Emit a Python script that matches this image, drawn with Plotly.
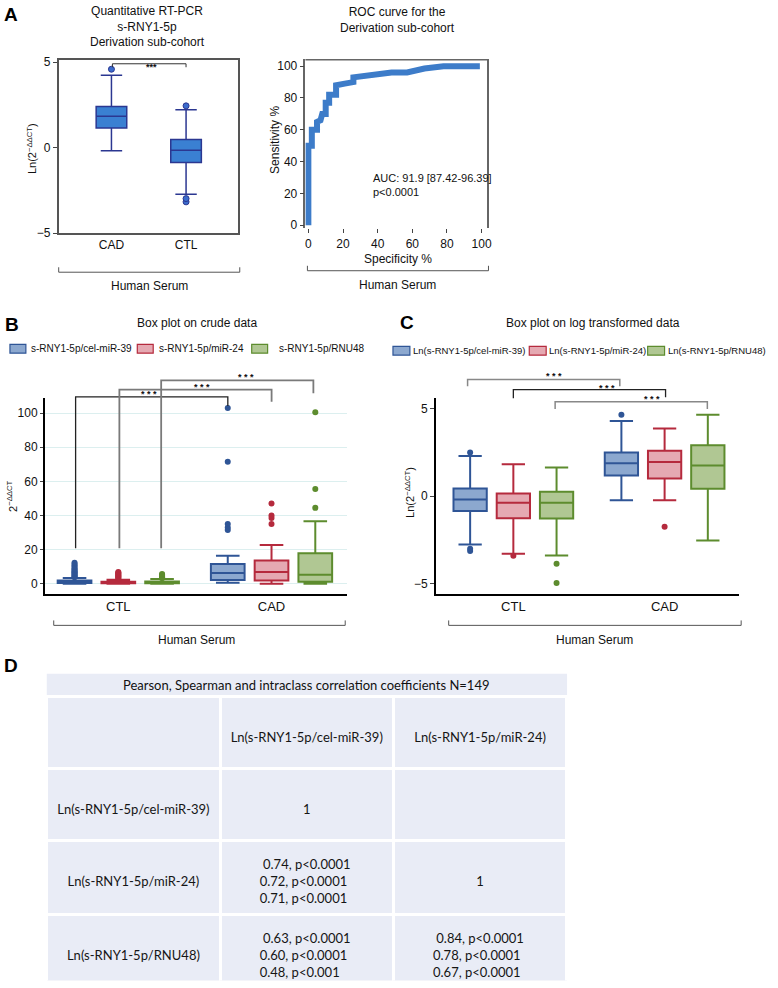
import plotly.graph_objects as go

W, H = 778, 988
def X(p): return p / W
def Y(p): return 1 - p / H

FONT = "Liberation Sans"

# ---------------- data ----------------
# Panel A (left): Ln(2^-ddCT) box stats
A_CATS = ["CAD", "CTL"]
A_Q1 = [1.15, -0.87]
A_MED = [1.83, -0.15]
A_Q3 = [2.40, 0.48]
A_LOW = [-0.19, -2.73]
A_HIGH = [4.23, 2.21]
A_OUT = [[4.58], [2.44, -2.98, -3.17]]

# Panel A (right): ROC curve
ROC_SPEC = [0, 0, 2, 2, 5, 5, 7, 8, 10, 10, 12, 12, 16, 16, 21, 26, 26, 32, 38, 48, 57, 60, 67, 78, 99]
ROC_SENS = [0, 50, 50, 60, 60, 65, 66, 70, 70, 77, 77, 82, 82, 88, 89, 90, 93, 94, 95, 96, 96, 97, 98.5, 100, 100]
AUC_TEXT = "AUC: 91.9 [87.42-96.39]<br>p&lt;0.0001"

# Panels B and C
GROUPS = ["CTL", "CAD"]
SERIES_B = ["s-RNY1-5p/cel-miR-39", "s-RNY1-5p/miR-24", "s-RNY1-5p/RNU48"]
SERIES_C = ["Ln(s-RNY1-5p/cel-miR-39)", "Ln(s-RNY1-5p/miR-24)", "Ln(s-RNY1-5p/RNU48)"]

B_Q1 = [[0.5, 2.3], [0.3, 1.9], [0.3, 1.2]]
B_MED = [[1.2, 6.4], [0.8, 6.9], [0.8, 5.4]]
B_Q3 = [[2.0, 11.6], [1.3, 13.7], [1.4, 17.9]]
B_LOW = [[0.0, 0.6], [0.0, 0.0], [0.0, 0.0]]
B_HIGH = [[3.4, 16.4], [2.4, 22.7], [2.9, 36.6]]
B_OUT = [
    [[3.8, 4.3, 4.8, 5.3, 5.8, 6.3, 6.8, 7.3, 7.8, 8.5, 9.2, 10.0, 10.8, 11.6, 12.4], [31.5, 33.0, 35.0, 71.5, 103.0]],
    [[3.0, 3.5, 4.0, 4.5, 5.0, 5.5, 6.0, 6.5, 7.0], [35.0, 38.5, 40.0, 47.0]],
    [[3.3, 3.8, 4.3, 4.8, 5.3, 5.8], [44.5, 55.5, 100.5]],
]

C_Q1 = [[-0.85, 1.18], [-1.26, 1.00], [-1.27, 0.42]]
C_MED = [[-0.19, 1.88], [-0.37, 1.94], [-0.37, 1.75]]
C_Q3 = [[0.43, 2.48], [0.15, 2.59], [0.25, 2.90]]
C_LOW = [[-2.76, -0.23], [-3.28, -0.23], [-3.38, -2.53]]
C_HIGH = [[2.29, 4.28], [1.82, 3.85], [1.63, 4.64]]
C_OUT = [
    [[2.48, -3.00, -3.12], [4.64]],
    [[-3.40], [-1.75]],
    [[-3.85, -4.94], []],
]

# Panel D: correlation table
TABLE_TITLE = "Pearson, Spearman and intraclass correlation coefficients N=149"
COL_LABELS = ["", "Ln(s-RNY1-5p/cel-miR-39)", "Ln(s-RNY1-5p/miR-24)"]
ROW_LABELS = ["Ln(s-RNY1-5p/cel-miR-39)", "Ln(s-RNY1-5p/miR-24)", "Ln(s-RNY1-5p/RNU48)"]
COL1_VALUES = [["1"],
               ["0.74, p<0.0001", "0.72, p<0.0001", "0.71, p<0.0001"],
               ["0.63, p<0.0001", "0.60, p<0.0001", "0.48, p<0.001"]]
COL2_VALUES = [[],
               ["1"],
               ["0.84, p<0.0001", "0.78, p<0.0001", "0.67, p<0.0001"]]

# ---------------- styles ----------------
LINE_C = ["#2f5596", "#b52a3d", "#5d8c2e"]
FILL_C = ["#8ca8cf", "#e5a9b2", "#b0c793"]

fig = go.Figure()

# Panel A left
fig.add_trace(go.Box(
    x=A_CATS, q1=A_Q1, median=A_MED, q3=A_Q3, lowerfence=A_LOW, upperfence=A_HIGH,
    y=A_OUT, boxpoints="outliers", pointpos=0, jitter=0, width=0.41, whiskerwidth=0.7,
    alignmentgroup="A", offsetgroup="a0",
    fillcolor="#3a80d2", line=dict(color="#2b3791", width=1.5),
    marker=dict(color="#3b6ccc", size=6, line=dict(color="#2b3791", width=1)),
    xaxis="x", yaxis="y", showlegend=False, name="s-RNY1-5p"))

# Panel A right (ROC)
fig.add_trace(go.Scatter(
    x=ROC_SPEC, y=ROC_SENS, mode="lines", line=dict(color="#3d7cc9", width=6),
    xaxis="x2", yaxis="y2", showlegend=False, name="ROC"))

# Panel B
for k in range(3):
    fig.add_trace(go.Box(
        x=GROUPS, q1=B_Q1[k], median=B_MED[k], q3=B_Q3[k], lowerfence=B_LOW[k], upperfence=B_HIGH[k],
        y=B_OUT[k], boxpoints="outliers", pointpos=0, jitter=0, whiskerwidth=0.7,
        alignmentgroup="B", offsetgroup=f"b{k}",
        fillcolor=FILL_C[k], line=dict(color=LINE_C[k], width=2),
        marker=dict(color=LINE_C[k], size=6),
        xaxis="x3", yaxis="y3", showlegend=False, name=SERIES_B[k]))

# Panel C
for k in range(3):
    fig.add_trace(go.Box(
        x=GROUPS, q1=C_Q1[k], median=C_MED[k], q3=C_Q3[k], lowerfence=C_LOW[k], upperfence=C_HIGH[k],
        y=C_OUT[k], boxpoints="outliers", pointpos=0, jitter=0, whiskerwidth=0.7,
        alignmentgroup="C", offsetgroup=f"c{k}",
        fillcolor=FILL_C[k], line=dict(color=LINE_C[k], width=2),
        marker=dict(color=LINE_C[k], size=6),
        xaxis="x4", yaxis="y4", showlegend=False, name=SERIES_C[k]))

# Panel D table (text lines are nudged down so that they sit centred in the tall rows)
SHIFT = "<span style='baseline-shift:-8px'>{}</span>"
def fmt(lines):
    lines = [SHIFT.format(s.replace("<", "&lt;")) for s in lines]
    if len(lines) == 0:
        return ""
    if len(lines) == 1:
        return "&nbsp;<br>" + lines[0]
    lines[0] = "&nbsp;" + lines[0] + "&nbsp;"
    return "<br>".join(lines)

header_vals = [fmt([c]) if c else "" for c in COL_LABELS]
cell_vals = [[fmt([r]) for r in ROW_LABELS],
             [fmt(v) for v in COL1_VALUES],
             [fmt(v) for v in COL2_VALUES]]
TFONT = dict(family="Lato", size=13, color="#151515")
fig.add_trace(go.Table(
    domain=dict(x=[X(47), X(570)], y=[0, Y(700)]),
    columnwidth=[1, 1, 1],
    header=dict(values=header_vals, fill_color="#e9ecf6", line=dict(color="white", width=3),
                height=72, font=TFONT, align="center"),
    cells=dict(values=cell_vals, fill_color="#e9ecf6", line=dict(color="white", width=3),
               height=72, font=TFONT, align="center")))

# ---------------- annotations / shapes ----------------
annotations = []
shapes = []

def ann(text, x, y, size=12, xanchor="center", yanchor="middle", angle=0, bold=False,
        color="#111", align="center", family=FONT):
    if bold:
        text = "<b>" + text + "</b>"
    annotations.append(dict(text=text, x=X(x), y=Y(y), xref="paper", yref="paper",
                            xanchor=xanchor, yanchor=yanchor, textangle=angle, showarrow=False,
                            align=align, font=dict(family=family, size=size, color=color)))

def path(points, color="#555", width=1.2):
    d = "M " + " L ".join(f"{X(px)},{Y(py)}" for px, py in points)
    shapes.append(dict(type="path", path=d, xref="paper", yref="paper",
                       line=dict(color=color, width=width)))

def rect(x0, y0, x1, y1, fill, line):
    shapes.append(dict(type="rect", x0=X(x0), x1=X(x1), y0=Y(y0), y1=Y(y1), xref="paper", yref="paper",
                       fillcolor=fill, line=dict(color=line, width=1.2)))

# panel letters
ann("A", 2, 10, size=19, xanchor="left", bold=True, color="#000")
ann("B", 3, 323, size=19, xanchor="left", bold=True, color="#000")
ann("C", 400, 321, size=19, xanchor="left", bold=True, color="#000")
ann("D", 2, 669, size=19, xanchor="left", bold=True, color="#000")

# Panel A titles
ann("Quantitative RT-PCR<br>s-RNY1-5p<br>Derivation sub-cohort", 148, 22, size=12)
ann("ROC curve for the<br>Derivation sub-cohort", 400, 15, size=12)
ann("Ln(2<sup>−ΔΔCT</sup>)", 32, 145, size=11, angle=-90)
ann("Sensitivity %", 277, 137, size=12, angle=-90)
ann("Specificity %", 400, 257, size=12)
ann(AUC_TEXT, 373, 182, size=11, xanchor="left", align="left")
ann("***", 152, 63, size=9, bold=True)
path([(113, 63), (113, 59.5), (187, 59.5), (187, 63)], color="#333", width=1)
# ROC top frame
path([(307, 55.5), (490, 55.5)], color="#666", width=1.5)

# Human Serum brackets
for (x0, x1, yl, yt, xc) in [(59, 241, 270.5, 284, 150), (309, 491, 269, 283, 400),
                             (54, 347, 628, 643, 198), (451, 745, 628, 643, 598)]:
    path([(x0, yl - 5), (x0, yl), (x1, yl), (x1, yl - 5)], color="#555", width=1)
    ann("Human Serum", xc, yt, size=12)

# Panel B titles, legend, brackets
ann("Box plot on crude data", 198, 322, size=12)
ann("2<sup>−ΔΔCT</sup>", 12, 497, size=11, angle=-90)
for k, (sx, tx) in enumerate([(10, 29), (138, 158), (253, 278)]):
    rect(sx, 343.5, sx + 16, 352.5, FILL_C[k], LINE_C[k])
    ann(SERIES_B[k], tx, 348, size=10, xanchor="left")
path([(76, 550), (76, 396.7), (229, 396.7), (229, 406)], color="#222", width=1.3)
path([(120, 550), (120, 389.3), (273, 389.3), (273, 401.7)], color="#7a7a7a", width=1.8)
path([(162, 550), (162, 380), (315, 380), (315, 393)], color="#7a7a7a", width=1.8)
ann("* * *", 150, 394, size=9, bold=True)
ann("* * *", 203, 387, size=9, bold=True)
ann("* * *", 247, 377, size=9, bold=True)

# Panel C titles, legend, brackets
ann("Box plot on log transformed data", 596, 322, size=12)
ann("Ln(2<sup>−ΔΔCT</sup>)", 412, 493, size=11, angle=-90)
for k, (sx, tx) in enumerate([(395, 413), (532, 550), (651, 669)]):
    rect(sx, 345.5, sx + 17, 354.5, FILL_C[k], LINE_C[k])
    ann(SERIES_C[k], tx, 350, size=9.5, xanchor="left")
path([(470, 386), (470, 379), (623, 379), (623, 386)], color="#888", width=1.5)
path([(516, 398), (516, 389.3), (669, 389.3), (669, 397)], color="#222", width=1.3)
path([(558, 409), (558, 401.7), (711, 401.7), (711, 409)], color="#888", width=1.5)
ann("* * *", 557, 376, size=9, bold=True)
ann("* * *", 610, 388, size=9, bold=True)
ann("* * *", 655, 399, size=9, bold=True)

# Panel D title band
shapes.append(dict(type="rect", x0=X(47), x1=X(570), y0=Y(699), y1=Y(677), xref="paper", yref="paper",
                   fillcolor="#e9ecf6", line=dict(width=0), layer="below"))
ann(TABLE_TITLE, 308, 688, size=13, family="Lato")

# ---------------- axes ----------------
tick_font = dict(family=FONT, size=12, color="#111")
fig.update_layout(
    width=W, height=H, autosize=False,
    margin=dict(l=0, r=0, t=0, b=0),
    paper_bgcolor="white", plot_bgcolor="white",
    boxmode="group", boxgap=0.143, boxgroupgap=0.23,
    showlegend=False,
    font=dict(family=FONT, size=12, color="#111"),
    xaxis=dict(domain=[X(59), X(239)], anchor="y", type="category", range=[-0.707, 1.693],
               showline=True, mirror=True, linecolor="#555", linewidth=1.5, ticks="",
               showgrid=False, tickfont=dict(family=FONT, size=12)),
    yaxis=dict(domain=[Y(231), Y(56)], anchor="x", range=[-5, 5.1], tickvals=[-5, 0, 5],
               showline=True, mirror=True, linecolor="#555", linewidth=1.5, ticks="outside", ticklen=4,
               showgrid=False, zeroline=False, tickfont=tick_font),
    xaxis2=dict(domain=[X(307), X(490)], anchor="y2", range=[-1.7, 103.4], tickvals=[0, 20, 40, 60, 80, 100],
                showline=False, ticks="outside", ticklen=4, tickcolor="#444", showgrid=False, zeroline=False,
                tickfont=tick_font),
    yaxis2=dict(domain=[Y(226), Y(55)], anchor="x2", range=[-1.9, 104.3], tickvals=[0, 20, 40, 60, 80, 100],
                showline=True, mirror=True, linecolor="#666", linewidth=1.5, ticks="outside", ticklen=4,
                showgrid=False, zeroline=False, tickfont=tick_font),
    xaxis3=dict(domain=[X(45), X(349)], anchor="y3", type="category", range=[-0.48, 1.494],
                showline=True, linecolor="#000", linewidth=2.2, ticks="", showgrid=False,
                tickfont=dict(family=FONT, size=13)),
    yaxis3=dict(domain=[Y(596), Y(398)], anchor="x3", range=[-5.8, 108.7], tickvals=[0, 20, 40, 60, 80, 100],
                showline=True, linecolor="#000", linewidth=1.5, ticks="outside", ticklen=3,
                showgrid=True, gridcolor="#dcefef", gridwidth=1, zeroline=False, tickfont=tick_font),
    xaxis4=dict(domain=[X(438), X(743)], anchor="y4", type="category", range=[-0.513, 1.493],
                showline=True, linecolor="#000", linewidth=2.2, ticks="", showgrid=False,
                tickfont=dict(family=FONT, size=13)),
    yaxis4=dict(domain=[Y(596), Y(398)], anchor="x4", range=[-5.56, 5.58], tickvals=[-5, 0, 5],
                showline=True, linecolor="#000", linewidth=1.5, ticks="outside", ticklen=4,
                showgrid=False, zeroline=False, tickfont=tick_font),
    annotations=annotations,
    shapes=shapes,
)

fig.write_html("out.html", config={"displayModeBar": False},
               post_script="document.body.style.margin='0';")
